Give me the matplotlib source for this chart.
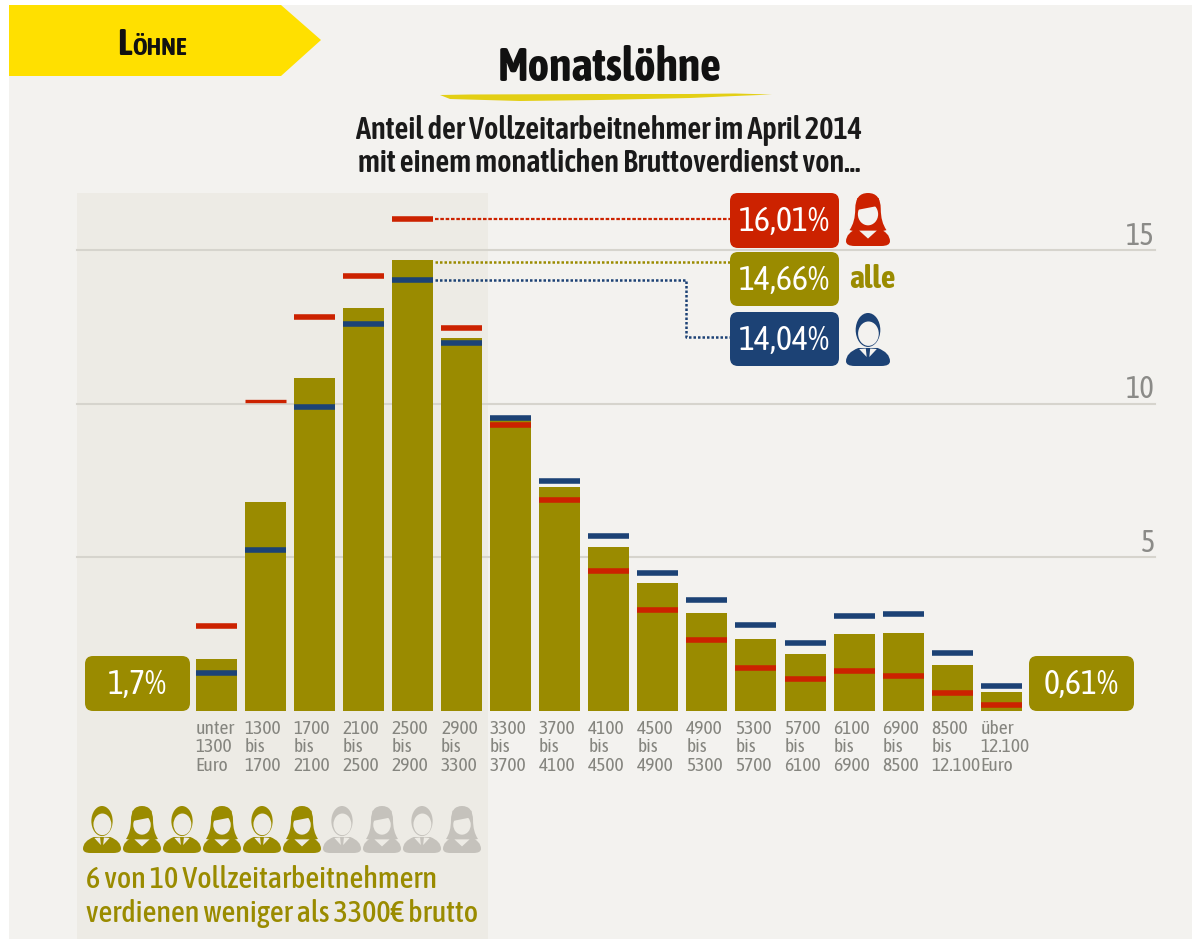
import matplotlib
matplotlib.use("Agg")
import matplotlib.pyplot as plt
from matplotlib.patches import Polygon, Rectangle, FancyBboxPatch, Ellipse, PathPatch
from matplotlib.path import Path
import logging

logging.getLogger("matplotlib.font_manager").setLevel(logging.ERROR)

# anteil in prozent
labels = ["unter\n1300\nEuro", "1300\nbis\n1700", "1700\nbis\n2100", "2100\nbis\n2500",
          "2500\nbis\n2900", "2900\nbis\n3300", "3300\nbis\n3700", "3700\nbis\n4100",
          "4100\nbis\n4500", "4500\nbis\n4900", "4900\nbis\n5300", "5300\nbis\n5700",
          "5700\nbis\n6100", "6100\nbis\n6900", "6900\nbis\n8500", "8500\nbis\n12.100",
          "über\n12.100\nEuro"]
alle = [1.7, 6.8, 10.85, 13.1, 14.66, 12.15, 9.5, 7.3, 5.35, 4.15, 3.2, 2.35, 1.85, 2.5, 2.55, 1.5, 0.61]
frauen = [2.75, 10.1, 12.82, 14.17, 16.01, 12.45, 9.3, 6.85, 4.55, 3.3, 2.3, 1.4, 1.05, 1.3, 1.15, 0.6, 0.2]
maenner = [1.25, 5.25, 9.9, 12.6, 14.04, 11.98, 9.55, 7.5, 5.7, 4.5, 3.6, 2.8, 2.2, 3.1, 3.15, 1.9, 0.8]
yticks = [5, 10, 15]

OLIVE = "#9a8b00"
RED = "#cc2200"
BLUE = "#1c4275"
GREY = "#c5c2bc"
BG = "#f3f2ef"
PANEL = "#edebe5"
W, H = 1192, 939

plt.rcParams["font.family"] = ["Asap Condensed", "Liberation Sans", "DejaVu Sans"]

fig = plt.figure(figsize=(W / 100, H / 100), dpi=100, facecolor="white")

# pixel layer for the decoration
pix = fig.add_axes([0, 0, 1, 1], zorder=0)
pix.set_xlim(0, W)
pix.set_ylim(H, 0)
pix.axis("off")
pix.add_patch(Rectangle((9, 5), W - 9, H - 5, color=BG, lw=0))
pix.add_patch(Rectangle((77, 193), 411, H - 193, color=PANEL, lw=0))
pix.add_patch(Polygon([(9, 5), (281, 5), (321, 40), (281, 76), (9, 76)], color="#ffe000", lw=0))
pix.add_patch(Polygon([(440, 95), (470, 94.5), (600, 94), (690, 94), (735, 93.5), (772, 94.5), (735, 96),
                       (690, 98), (600, 100), (520, 101), (450, 99)], color="#e3cf14", lw=0))

# data layer: x is the class index, y the share
x0, dx = 216.3, 49.06
y_per_px = 1 / 30.73
ax = fig.add_axes([0, 0, 1, 1], zorder=1)
ax.patch.set_visible(False)
ax.set_xlim(-x0 / dx, (W - x0) / dx)
ax.set_ylim((711 - H) * y_per_px, 711 * y_per_px)
ax.axis("off")


def px_x(p):
    return (p - x0) / dx


xs = list(range(len(labels)))
for t in yticks:
    ax.plot([px_x(77), px_x(1155)], [t, t], color="#d6d4cd", lw=1.5, zorder=1)
    ax.text(px_x(1155), t + 0.45, str(t), ha="right", va="center", color="#8b8b88", fontsize=22)

bw = 41 / dx
red_lw = [4] * len(xs)
red_lw[1] = 2.4  # this one is thinner in the original
ax.bar(xs, alle, width=bw, color=OLIVE, zorder=2)
ax.hlines(frauen, [x - bw / 2 for x in xs], [x + bw / 2 for x in xs], color=RED, lw=red_lw, zorder=3)
ax.hlines(maenner, [x - bw / 2 for x in xs], [x + bw / 2 for x in xs], color=BLUE, lw=4, zorder=3)

for x, lab in zip(xs, labels):
    ax.text(x - 0.42, -0.28, lab, ha="left", va="top", color="#85857f", fontsize=14, linespacing=1.05)

# leader lines
ax.plot([px_x(435), px_x(730)], [frauen[4]] * 2, color=RED, lw=1.6, ls=(0, (1.6, 0.8)), zorder=2)
ax.plot([px_x(435), px_x(730)], [alle[4] - 0.05] * 2, color=OLIVE, lw=1.8, ls=(0, (1, 0.8)), zorder=2)
ax.plot([px_x(435), px_x(686), px_x(686), px_x(730)],
        [maenner[4], maenner[4], (711 - 337) * y_per_px, (711 - 337) * y_per_px],
        color=BLUE, lw=1.8, ls=(0, (1, 0.8)), zorder=2)

# icons, texts and badges go on a top layer
top = fig.add_axes([0, 0, 1, 1], zorder=2)
top.set_xlim(0, W)
top.set_ylim(H, 0)
top.axis("off")
top.patch.set_visible(False)


def badge(x, y, w, h, txt, col, size=24.5):
    top.add_patch(FancyBboxPatch((x + 8, y + 8), w - 16, h - 16, boxstyle="round,pad=8", color=col, lw=0))
    top.text(x + w / 2, y + h / 2 + 1, txt, ha="center", va="center", color="white", fontsize=size)


def person(cx, bottom, w, h, col, bg, female):
    def P(u, v):
        return (cx + u * w, bottom - v * h)
    body = [P(-0.5, 0.09), P(-0.5, 0.25), P(-0.22, 0.34), P(0.22, 0.34), P(0.5, 0.25), P(0.5, 0.09),
            P(0.5, 0.0), P(0.3, 0.0), P(-0.3, 0.0), P(-0.5, 0.0), P(-0.5, 0.09)]
    codes = [Path.MOVETO, Path.CURVE3, Path.CURVE3, Path.LINETO, Path.CURVE3, Path.CURVE3,
             Path.CURVE3, Path.CURVE3, Path.LINETO, Path.CURVE3, Path.CURVE3]
    top.add_patch(PathPatch(Path(body, codes), color=col, lw=0))
    if female:
        hair = [P(-0.29, 0.7), P(-0.29, 1.0), P(0, 1.0), P(0.29, 1.0), P(0.29, 0.7), P(0.29, 0.45),
                P(0.42, 0.3), P(0, 0.2), P(-0.42, 0.3), P(-0.29, 0.45), P(-0.29, 0.7)]
        top.add_patch(PathPatch(Path(hair, [Path.MOVETO] + [Path.CURVE3] * 10), color=col, lw=0))
        top.add_patch(Ellipse(P(0.0, 0.6), w * 0.46, h * 0.42, color=bg, lw=0))
        # fringe across the forehead
        top.add_patch(Polygon([P(-0.25, 0.68), P(0.25, 0.76), P(0.25, 0.9), P(-0.25, 0.9)], color=col, lw=0))
        top.add_patch(Polygon([P(-0.2, 0.29), P(0.2, 0.29), P(0, 0.14)], color=bg, lw=0))
    else:
        top.add_patch(Ellipse(P(0, 0.68), w * 0.56, h * 0.64, color=col, lw=0))
        top.add_patch(Ellipse(P(0.01, 0.61), w * 0.47, h * 0.46, color=bg, lw=0))
        top.add_patch(Polygon([P(-0.2, 0.32), P(-0.03, 0.17), P(-0.05, 0.33)], color=bg, lw=0))
        top.add_patch(Polygon([P(0.2, 0.32), P(0.03, 0.17), P(0.05, 0.33)], color=bg, lw=0))


top.text(117, 55, "L", ha="left", va="baseline", fontsize=27, fontweight="bold", color="#111111")
top.text(132, 55, "ÖHNE", ha="left", va="baseline", fontsize=18, fontweight="bold", color="#111111")
top.text(610, 68, "Monatslöhne", ha="center", va="center", fontsize=33, fontweight="bold", color="#111111")
top.text(609, 147, "Anteil der Vollzeitarbeitnehmer im April 2014\nmit einem monatlichen Bruttoverdienst von...",
         ha="center", va="center", fontsize=22, fontweight="semibold", color="#1a1a1a", linespacing=1.05)

badge(730, 193, 109, 55, "16,01%", RED)
badge(730, 252, 109, 54, "14,66%", OLIVE)
badge(730, 312, 109, 54, "14,04%", BLUE)
badge(85, 656, 105, 55, "1,7%", OLIVE)
badge(1029, 656, 105, 55, "0,61%", OLIVE)
top.text(849, 279, "alle", ha="left", va="center", fontsize=23, fontweight="bold", color=OLIVE)
person(868, 246, 44, 53, RED, BG, True)
person(868, 366, 44, 53, BLUE, BG, False)

for i in range(10):
    person(102 + i * 40, 853, 38, 47, OLIVE if i < 6 else GREY, PANEL, i % 2 == 1)

top.text(86, 880, "6 von 10 Vollzeitarbeitnehmern", ha="left", va="center", fontsize=21.8, fontweight="medium", color=OLIVE)
top.text(86, 913, "verdienen weniger als 3300€ brutto", ha="left", va="center", fontsize=21.8, fontweight="medium", color=OLIVE)

fig.savefig("out.png", dpi=100, facecolor="white")
